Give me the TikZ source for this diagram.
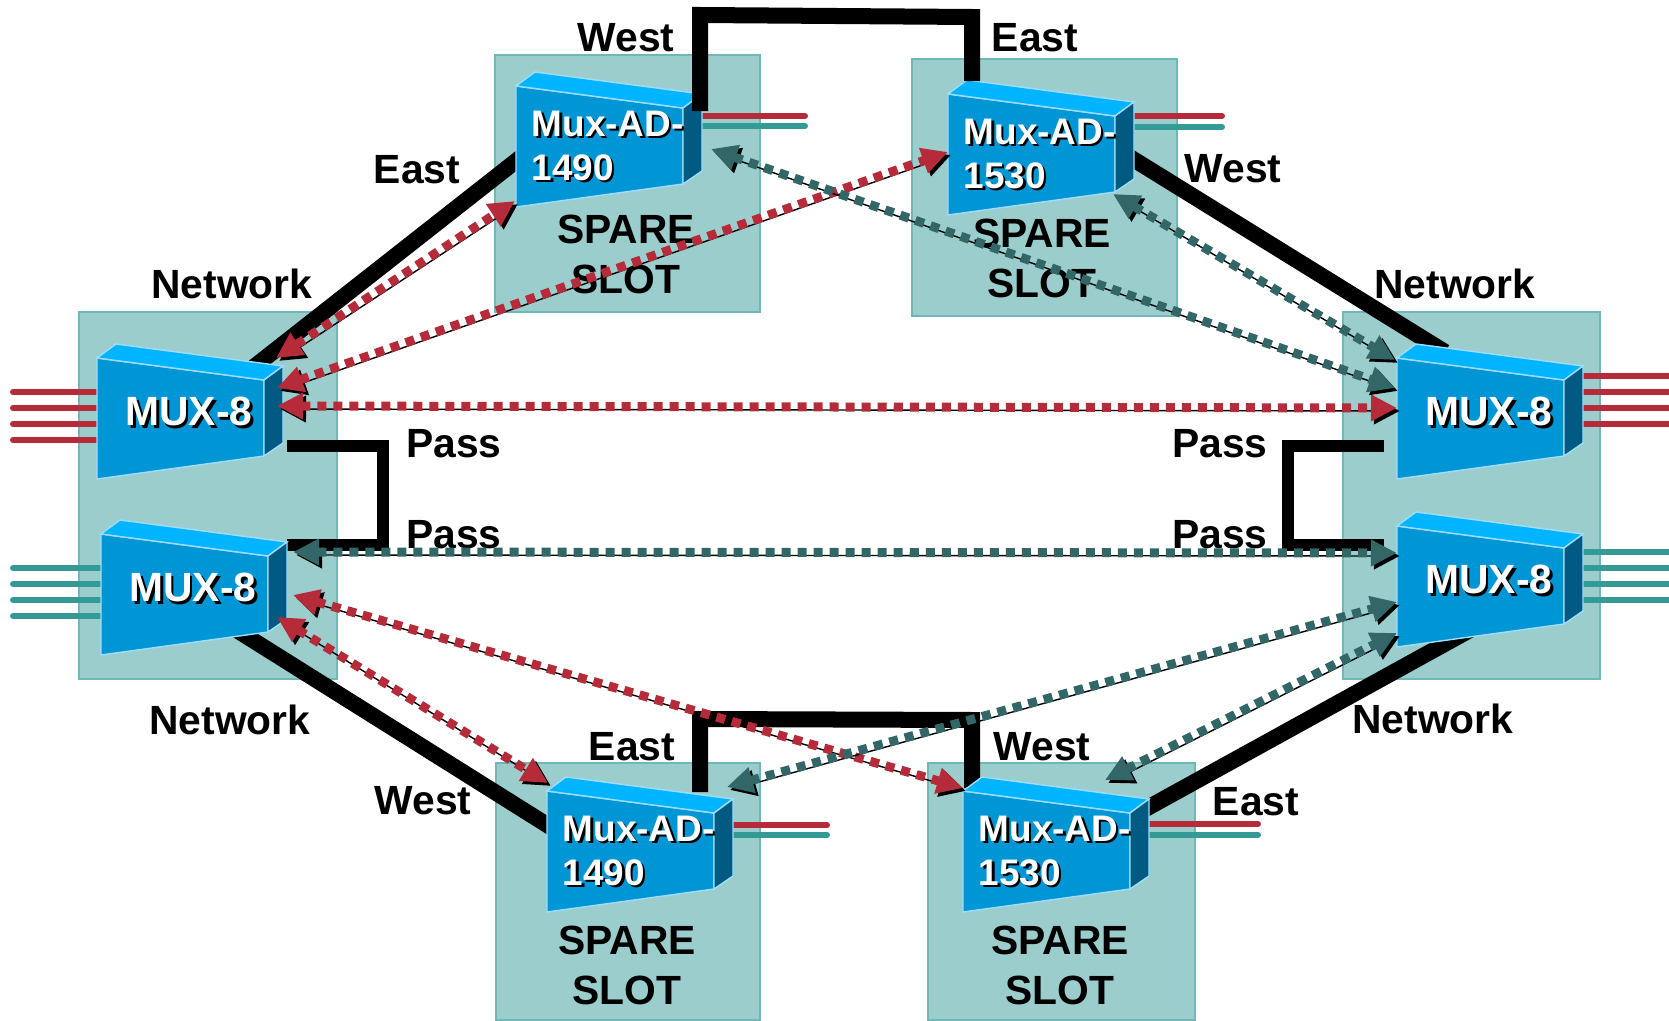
\documentclass[tikz,border=0pt]{standalone}
\usepackage{fontspec}
\setmainfont{Liberation Sans}
\usetikzlibrary{arrows.meta}
\pgfdeclarelayer{back}
\pgfsetlayers{back,main}

\definecolor{slotfill}{HTML}{9BCDCD}
\definecolor{slotline}{HTML}{6FB8B5}
\definecolor{muxfront}{HTML}{0096D6}
\definecolor{muxtop}{HTML}{00B4FF}
\definecolor{muxside}{HTML}{005A82}
\definecolor{muxedge}{HTML}{9FDDFF}
\definecolor{fibred}{HTML}{B52B3A}
\definecolor{fibteal}{HTML}{339A96}
\definecolor{pathteal}{HTML}{336666}

\newcommand{\shtxt}[1]{\leavevmode\rlap{\kern0.7pt\raisebox{-0.7pt}{\color{black}#1}}{\color{white}#1}}
\newcommand{\muxshape}{%
  \filldraw[draw=muxedge, line width=0.4pt, fill=muxfront] (0,0) -- (167,22) -- (167,98) -- (0,121) -- cycle;
  \filldraw[draw=muxedge, line width=0.4pt, fill=muxtop] (0,0) -- (19,-14) -- (186,8) -- (167,22) -- cycle;
  \filldraw[draw=muxedge, line width=0.4pt, fill=muxside] (167,22) -- (186,8) -- (186,85) -- (167,98) -- cycle;
  \coordinate (-nw) at (0,0);
  \coordinate (-ne) at (167,22);
  \coordinate (-se) at (167,98);
  \coordinate (-sw) at (0,121);
  \coordinate (-tne) at (186,8);
  \coordinate (-bse) at (186,85);
  \coordinate (-w) at (0,60);
}

\begin{document}
\begin{tikzpicture}[x=0.01cm, y=-0.01cm,
  slot/.style={fill=slotfill, draw=slotline, line width=0.6pt},
  lbl/.style={font=\fontsize{11.6}{14.2}\selectfont\bfseries, align=center, inner sep=0},
  muxtxt/.style={font=\fontsize{11.6}{14}\selectfont\bfseries, inner sep=0},
  adtxt/.style={font=\fontsize{10.5}{12.6}\selectfont\bfseries, align=left, inner sep=0, anchor=west},
  link/.style={line width=0.16cm},
  pass/.style={line width=0.12cm},
  fiber/.style={line width=0.06cm, line cap=round, preaction={draw=black, transform canvas={shift={(0,2.5)}}}},
  dots/.style={line width=0.09cm, dash pattern=on 0.09cm off 0.07cm,
    {Triangle[length=0.26cm,width=0.25cm]}-{Triangle[length=0.26cm,width=0.25cm]},
    preaction={draw=black, transform canvas={shift={(3,3)}}}},
  pics/mux8/.style={code={\muxshape \node[muxtxt] (-t) at (92,55) {\shtxt{MUX-8}};}},
  pics/muxad/.style={code={\muxshape \node[adtxt] (-t) at (15,61) {\shtxt{Mux-AD-}\\\shtxt{#1}};}}]
\useasboundingbox (0,0) rectangle (1669,1021);

\pic (lm1) at (97,358) {mux8};
\pic (lm2) at (101,534) {mux8};
\pic (rm1) at (1397,358) {mux8};
\pic (rm2) at (1397,526) {mux8};
\pic (ad1) at (516,86) {muxad=1490};
\pic (ad2) at (948,94) {muxad=1530};
\pic (ad3) at (547,791) {muxad=1490};
\pic (ad4) at (963,791) {muxad=1530};

\begin{pgfonlayer}{back}
\fill[white] (0,0) rectangle (1669,1021);
\draw[slot] (79,312) rectangle (337,679);
\draw[slot] (1343,312) rectangle (1600,679);
\draw[slot] (495,55) rectangle (760,312);
\draw[slot] (912,59) rectangle (1177,316);
\draw[slot] (496,763) rectangle (760,1020);
\draw[slot] (928,763) rectangle (1195,1020);
% client fibres
\foreach \dy in {34,50,66,82} {
  \draw[fiber, fibred] ([shift={(10,\dy)}]lm1-nw) -- ++(-94,0);
  \draw[fiber, fibteal] ([shift={(10,\dy)}]lm2-nw) -- ++(-98,0);
}
\foreach \dy in {18,34,50,66}
  \draw[fiber, fibred] ([shift={(180,\dy)}]rm1-nw) -- ++(100,0);
\foreach \dy in {26,42,58,74}
  \draw[fiber, fibteal] ([shift={(180,\dy)}]rm2-nw) -- ++(100,0);
\draw[fiber, fibred] ([shift={(180,30)}]ad1-nw) -- ++(109,0);
\draw[fiber, fibteal] ([shift={(180,40)}]ad1-nw) -- ++(109,0);
\draw[fiber, fibred] ([shift={(180,22)}]ad2-nw) -- ++(94,0);
\draw[fiber, fibteal] ([shift={(180,33)}]ad2-nw) -- ++(94,0);
\draw[fiber, fibred] ([shift={(180,34)}]ad3-nw) -- ++(100,0);
\draw[fiber, fibteal] ([shift={(180,44)}]ad3-nw) -- ++(100,0);
\draw[fiber, fibred] ([shift={(180,33)}]ad4-nw) -- ++(115,0);
\draw[fiber, fibteal] ([shift={(180,44)}]ad4-nw) -- ++(115,0);
% ring links
\draw[link] ([shift={(153,12)}]lm1-nw) -- ([shift={(14,64)}]ad1-nw);
\draw[link] ([shift={(172,57)}]ad2-nw) -- ([shift={(48,-6)}]rm1-nw);
\draw[link] ([shift={(134,95)}]lm2-nw) -- ([shift={(13,42)}]ad3-nw);
\draw[link] ([shift={(177,21)}]ad4-nw) -- ([shift={(73,104)}]rm2-nw);
\draw[link] ([shift={(153,1)}]ad3-nw) -- ++(0,-73) -- ([shift={(9,-71)}]ad4-nw) -- ([shift={(9,-3)}]ad4-nw);
\draw[pass] ([shift={(190,88)}]lm1-nw) -- ++(96,0) |- ([shift={(186,11)}]lm2-nw);
\draw[pass] ([shift={(-13,88)}]rm1-nw) -- ++(-96,0) |- ([shift={(-13,19)}]rm2-nw);
\end{pgfonlayer}

\draw[link] ([shift={(17,3)}]ad1-ne) -- ++(0,-96) -- ([shift={(24,-77)}]ad2-nw) -- ([shift={(24,-13)}]ad2-nw);

\node[lbl] (w1) at (626,38) {West};
\node[lbl] (e1) at (1035,38) {East};
\node[lbl] (e2) at (417,170) {East};
\node[lbl] (w2) at (1233,169) {West};
\node[lbl] (n1) at (232,284) {Network};
\node[lbl] (n2) at (1455,284) {Network};
\node[lbl] (n3) at (230,720) {Network};
\node[lbl] (n4) at (1433,719) {Network};
\node[lbl] (p1) at (454,444) {Pass};
\node[lbl] (p2) at (454,535) {Pass};
\node[lbl] (p3) at (1220,444) {Pass};
\node[lbl] (p4) at (1220,535) {Pass};
\node[lbl] (e3) at (632,747) {East};
\node[lbl] (w3) at (1042,747) {West};
\node[lbl] (w4) at (423,801) {West};
\node[lbl] (e4) at (1256,802) {East};
\node[lbl] (s1) at (626,254) {SPARE\\SLOT};
\node[lbl] (s2) at (1042,258) {SPARE\\SLOT};
\node[lbl] (s3) at (627,965) {SPARE\\SLOT};
\node[lbl] (s4) at (1060,965) {SPARE\\SLOT};

% wavelength paths
\draw[dots, fibred] ([shift={(-7,-8)}]lm1-tne) -- ([shift={(-1,-6)}]ad1-sw);
\draw[dots, fibred] ([shift={(13,8)}]lm1-ne) -- ([shift={(0,-2)}]ad2-w);
\draw[dots, fibred] ([shift={(13,26)}]lm1-ne) -- ([shift={(0,-10)}]rm1-w);
\draw[dots, fibred] ([shift={(9,-15)}]lm2-se) -- ([shift={(1,-8)}]ad3-nw);
\draw[dots, fibred] ([shift={(6,-24)}]lm2-bse) -- ([shift={(0,-3)}]ad4-nw);
\draw[dots, pathteal] ([shift={(9,-22)}]ad1-bse) -- ([shift={(-2,-30)}]rm1-w);
\draw[dots, pathteal] ([shift={(-2,2)}]ad2-se) -- ([shift={(-2,2)}]rm1-nw);
\draw[dots, pathteal] ([shift={(6,10)}]lm2-tne) -- ([shift={(0,27)}]rm2-nw);
\draw[dots, pathteal] ([shift={(-6,-12)}]ad3-tne) -- ([shift={(0,76)}]rm2-nw);
\draw[dots, pathteal] ([shift={(-44,-19)}]ad4-tne) -- ([shift={(0,-14)}]rm2-sw);
\end{tikzpicture}
\end{document}
